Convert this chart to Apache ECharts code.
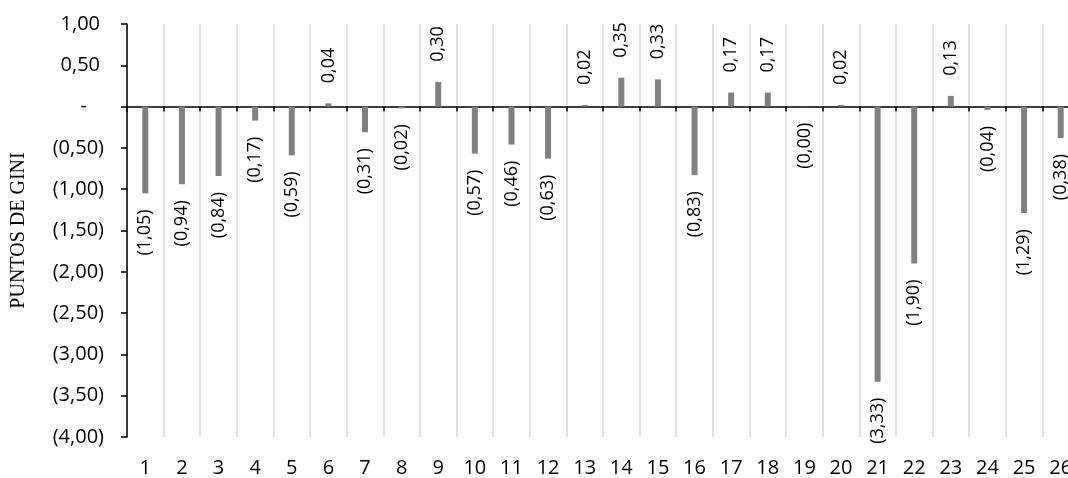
<!DOCTYPE html>
<html>
<head>
<meta charset="utf-8">
<script src="https://cdn.jsdelivr.net/npm/echarts@6/dist/echarts.min.js"></script>
<style>html,body{margin:0;padding:0;background:#fff;overflow:hidden;width:1068px;height:478px}#c{width:1080px;height:478px}</style>
</head>
<body>
<div id="c"></div>
<script>
const categories = ['1','2','3','4','5','6','7','8','9','10','11','12','13','14','15','16','17','18','19','20','21','22','23','24','25','26'];
const values = [-1.05,-0.94,-0.84,-0.17,-0.59,0.04,-0.31,-0.02,0.30,-0.57,-0.46,-0.63,0.02,0.35,0.33,-0.83,0.17,0.17,-0.001,0.02,-3.33,-1.90,0.13,-0.04,-1.29,-0.38];
const yTicks = {min:-4, max:1, interval:0.5};
const yTitle = 'PUNTOS DE GINI';

function fmt(v){
  const s = Math.abs(v).toFixed(2).replace('.', ',');
  return v < 0 ? '(' + s + ')' : s;
}
const FONT = '"Open Sans", sans-serif';
const chart = echarts.init(document.getElementById('c'), null, {renderer:'canvas'});
chart.setOption({
  animation:false,
  grid:{left:127, top:24, bottom:37, right:1},
  xAxis:[
    {type:'category', data:categories, position:'bottom',
     axisLine:{show:false, onZero:false}, axisTick:{show:false},
     axisLabel:{margin:21, fontFamily:FONT, fontSize:20, color:'#000'},
     splitLine:{show:true, lineStyle:{color:'#d9d9d9', width:1.5}}},
    {type:'category', data:categories, position:'bottom',
     axisLine:{show:true, onZero:true, lineStyle:{color:'#000', width:1.5}},
     axisTick:{show:true, length:5, lineStyle:{color:'#000', width:1.5}},
     axisLabel:{show:false}, splitLine:{show:false}}
  ],
  yAxis:{type:'value', min:yTicks.min, max:yTicks.max, interval:yTicks.interval,
    name:yTitle, nameLocation:'middle', nameGap:98, nameRotate:90,
    nameTextStyle:{fontFamily:'"Liberation Serif", serif', fontSize:20, color:'#000'},
    axisLine:{show:true, lineStyle:{color:'#000', width:1.5}},
    axisTick:{show:true, length:6, lineStyle:{color:'#000', width:1.5}},
    splitLine:{show:false},
    axisLabel:{margin:23, fontFamily:FONT, fontSize:20, color:'#000',
      formatter:function(v){
        if (Math.abs(v) < 1e-9) return '{z|-}';
        if (v < 0) return fmt(v);
        return '{p|' + fmt(v) + '}';
      },
      rich:{z:{padding:[0,17,0,0], fontFamily:FONT, fontSize:20, color:'#000'},
            p:{padding:[0,4,0,0], fontFamily:FONT, fontSize:20, color:'#000'}}
    }},
  series:[{
    type:'bar', xAxisIndex:0, barWidth:6,
    itemStyle:{color:'#808080'},
    data:values.map(function(v){
      return {value:v, label:{show:true, position: v < 0 ? 'bottom' : 'top',
        rotate:90, align: v < 0 ? 'right' : 'left', verticalAlign:'middle',
        distance: v < 0 ? 16 : 20,
        fontFamily:FONT, fontSize:18, color:'#000',
        formatter:function(p){return fmt(p.value);}}};
    })
  }]
});
</script>
</body>
</html>
